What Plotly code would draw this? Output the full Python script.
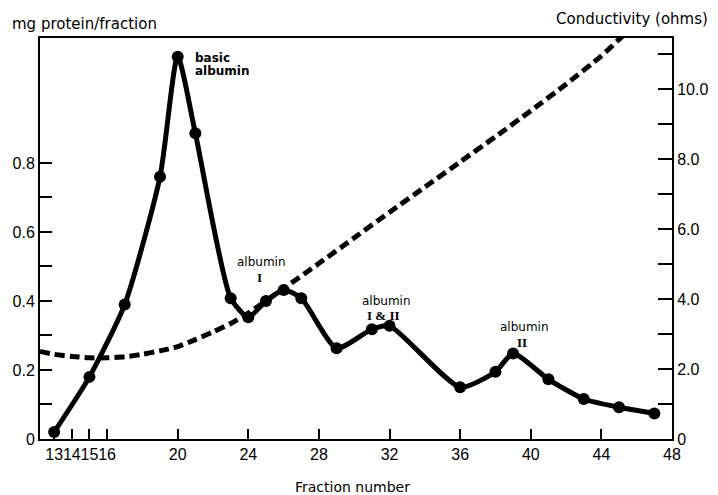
import plotly.graph_objects as go

# Protein elution profile (left axis)
fraction = [13, 15, 17, 19, 20, 21, 23, 24, 25, 26, 27, 29, 31, 32, 36, 38, 39, 41, 43, 45, 47]
protein = [0.02, 0.18, 0.39, 0.76, 1.108, 0.886, 0.408, 0.353, 0.40, 0.432, 0.408,
           0.263, 0.318, 0.328, 0.150, 0.195, 0.248, 0.173, 0.116, 0.092, 0.074]

# Conductivity gradient (right axis)
cond_x = [12.2, 13, 14, 15, 16, 17, 18, 19, 20, 21, 22, 23, 24, 26, 28, 30, 32, 34, 36, 38, 40, 42, 44, 45, 46]
cond_y = [2.50, 2.42, 2.36, 2.32, 2.32, 2.35, 2.42, 2.52, 2.64, 2.84, 3.06, 3.30, 3.60, 4.30,
          5.02, 5.75, 6.48, 7.20, 7.92, 8.64, 9.38, 10.14, 10.95, 11.42, 11.90]

x_ticks = [13, 14, 15, 16, 20, 24, 28, 32, 36, 40, 44, 48]
y_ticks = [0, 0.1, 0.2, 0.3, 0.4, 0.5, 0.6, 0.7, 0.8]
y_ticktext = ["0", "", "0.2", "", "0.4", "", "0.6", "", "0.8"]
y2_ticks = [0, 1, 2, 3, 4, 5, 6, 7, 8, 9, 10, 11]
y2_ticktext = ["0", "", "2.0", "", "4.0", "", "6.0", "", "8.0", "", "10.0", ""]

FONT = "DejaVu Sans"
TICKFONT = dict(size=16, family="Liberation Sans", color="black")
fig = go.Figure()
fig.add_trace(go.Scatter(x=cond_x, y=cond_y, yaxis="y2", mode="lines",
                         line=dict(color="black", width=5, dash="10px,5px", shape="spline", smoothing=0.6),
                         showlegend=False, hoverinfo="skip"))
fig.add_trace(go.Scatter(x=fraction, y=protein, mode="lines+markers",
                         line=dict(color="black", width=5, shape="spline", smoothing=0.6),
                         marker=dict(color="black", size=12),
                         showlegend=False))

fig.update_layout(
    width=718, height=495,
    margin=dict(l=40, r=46, t=38, b=56),
    plot_bgcolor="white", paper_bgcolor="white",
    font=dict(family=FONT, color="black"),
    xaxis=dict(range=[12.2, 48], tickvals=x_ticks, ticktext=[str(v) for v in x_ticks],
               ticks="inside", ticklen=10, tickwidth=2, tickcolor="black", tickangle=0,
               showline=True, linecolor="black", linewidth=2, mirror=True, automargin=False,
               showgrid=False, zeroline=False, tickfont=TICKFONT),
    yaxis=dict(range=[0, 1.162], tickvals=y_ticks, ticktext=y_ticktext,
               ticks="inside", ticklen=12, tickwidth=2, tickcolor="black", automargin=False,
               showline=True, linecolor="black", linewidth=2,
               showgrid=False, zeroline=False, tickfont=TICKFONT),
    yaxis2=dict(range=[0, 11.46], tickvals=y2_ticks, ticktext=y2_ticktext, overlaying="y", side="right",
                ticks="inside", ticklen=14, tickwidth=2, tickcolor="black", automargin=False,
                showline=True, linecolor="black", linewidth=2,
                showgrid=False, zeroline=False, tickfont=TICKFONT),
)

ann = [
    dict(text="mg protein/fraction", x=-0.0475, y=1.035, xref="paper", yref="paper",
         xanchor="left", yanchor="middle", font=dict(size=15)),
    dict(text="Conductivity (ohms)", x=1.06, y=1.047, xref="paper", yref="paper",
         xanchor="right", yanchor="middle", font=dict(size=15)),
    dict(text="Fraction number", x=0.494, y=-0.12, xref="paper", yref="paper",
         xanchor="center", yanchor="middle", font=dict(size=14)),
    dict(text="<b>basic</b>", x=20.85, y=1.104, xanchor="left", yanchor="middle", font=dict(size=12)),
    dict(text="<b>albumin</b>", x=20.85, y=1.067, xanchor="left", yanchor="middle", font=dict(size=12)),
    dict(text="albumin", x=24.73, y=0.513, font=dict(size=12)),
    dict(text="<b>I</b>", x=24.65, y=0.467, font=dict(size=13, family="Liberation Serif")),
    dict(text="albumin", x=31.82, y=0.40, font=dict(size=12)),
    dict(text="<b>I &amp; II</b>", x=31.68, y=0.359, font=dict(size=13, family="Liberation Serif")),
    dict(text="albumin", x=39.64, y=0.325, font=dict(size=12)),
    dict(text="<b>II</b>", x=39.53, y=0.281, font=dict(size=13, family="Liberation Serif")),
]
for a in ann:
    a.setdefault("xref", "x")
    a.setdefault("yref", "y")
    a["showarrow"] = False
    fig.add_annotation(**a)

fig.write_html("out.html", config={"displayModeBar": False},
               post_script="document.body.style.margin='0';document.body.style.overflow='hidden';")
